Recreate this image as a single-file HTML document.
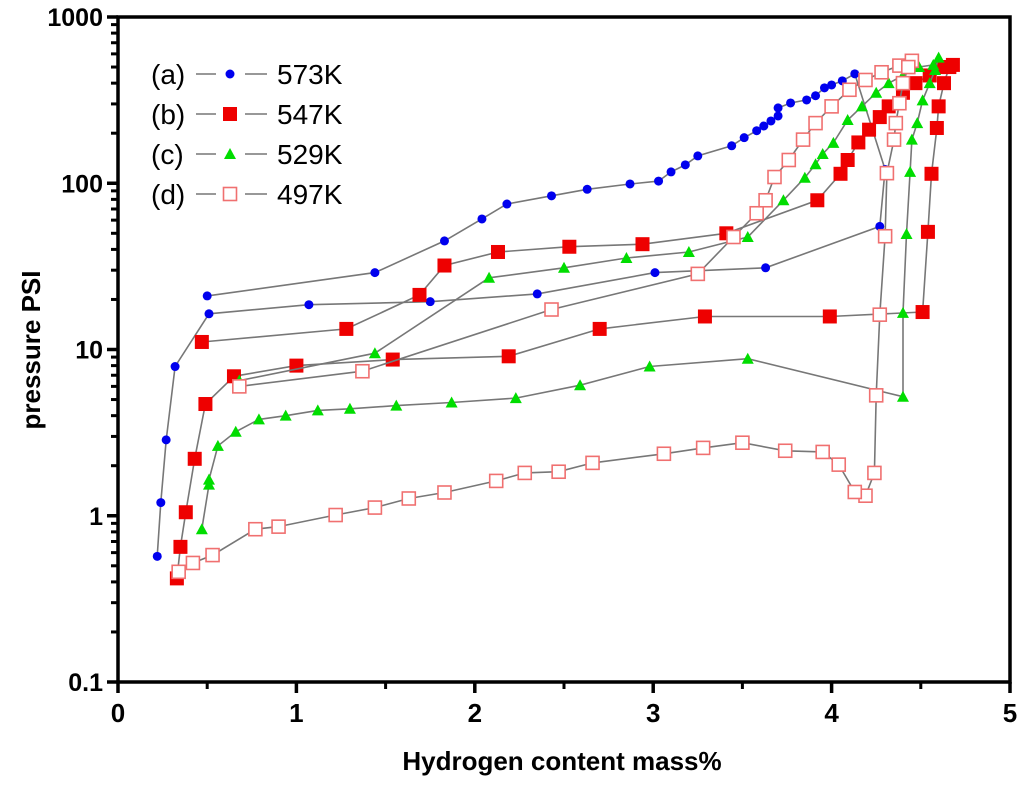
<!DOCTYPE html>
<html><head><meta charset="utf-8"><style>
html,body{margin:0;padding:0;background:#fff;}
svg{display:block;font-family:"Liberation Sans",Arial,sans-serif;}
</style></head><body>
<svg id="chart" width="1024" height="787" viewBox="0 0 1024 787" xmlns="http://www.w3.org/2000/svg">
<g id="axes"></g>
<g id="series"></g>
<g id="legend"></g>
<text x="562" y="770" font-size="26" font-weight="bold" text-anchor="middle">Hydrogen content mass%</text>
<text transform="translate(40,350) rotate(-90)" font-size="26" font-weight="bold" text-anchor="middle">pressure PSI</text>
</svg>
<script>
const xTicks=[0,1,2,3,4,5];
const yTicks=[0.1,1,10,100,1000];
const yTickLabels=["0.1","1","10","100","1000"];
const seriesNames=["(a)","(b)","(c)","(d)"];
const seriesTemps=["573K","547K","529K","497K"];
const aX=[0.50,1.44,1.83,2.04,2.18,2.43,2.63,2.87,3.03,3.10,3.18,3.25,3.44,3.51,3.58,3.62,3.66,3.70,3.70,3.77,3.86,3.91,3.96,4.00,4.06,4.13,4.30,4.27,3.63,3.01,2.35,1.75,1.07,0.51,0.32,0.27,0.24,0.22];
const aY=[21,29,45,61,75,84,92,99,103,117,129,146,168,188,207,221,237,254,284,304,317,336,375,390,413,455,121,55,31,29,21.6,19.4,18.6,16.4,7.9,2.86,1.2,0.57];
const bX=[0.47,1.28,1.69,1.83,2.13,2.53,2.94,3.41,3.92,4.05,4.09,4.15,4.21,4.27,4.32,4.40,4.47,4.55,4.62,4.68,4.66,4.63,4.60,4.59,4.56,4.54,4.51,3.99,3.29,2.70,2.19,1.54,1.00,0.65,0.49,0.43,0.38,0.35,0.33];
const bY=[11.1,13.3,21.3,32,38.6,41.5,43,50,79,114,138,176,210,250,290,350,400,445,500,515,500,400,290,215,114,51,16.8,15.8,15.8,13.3,9.1,8.7,8.0,6.9,4.7,2.2,1.05,0.65,0.42];
const cX=[0.68,1.44,2.08,2.50,2.85,3.20,3.53,3.73,3.85,3.91,3.95,4.01,4.09,4.17,4.25,4.32,4.40,4.49,4.57,4.60,4.58,4.55,4.51,4.48,4.45,4.44,4.42,4.40,4.40,3.53,2.98,2.59,2.23,1.87,1.56,1.30,1.12,0.94,0.79,0.66,0.56,0.51,0.51,0.47];
const cY=[6.5,9.5,27,31,35.5,38.6,47.5,79,108,130,150,175,240,290,350,400,445,500,515,570,480,400,315,230,183,117,49.5,16.6,5.2,8.8,7.9,6.1,5.1,4.8,4.6,4.4,4.3,4.0,3.8,3.2,2.63,1.65,1.54,0.83];
const dX=[0.68,1.37,2.43,3.25,3.45,3.58,3.63,3.68,3.76,3.84,3.91,4.00,4.10,4.19,4.28,4.38,4.45,4.43,4.40,4.38,4.36,4.35,4.31,4.30,4.27,4.25,4.24,4.19,4.13,4.04,3.95,3.74,3.50,3.28,3.06,2.66,2.47,2.28,2.12,1.83,1.63,1.44,1.22,0.90,0.77,0.53,0.42,0.34];
const dY=[6.0,7.4,17.4,28.5,47.5,66,79,109,138,183,230,290,365,418,465,510,545,500,400,303,230,183,115,48,16.2,5.3,1.81,1.32,1.39,2.03,2.42,2.46,2.75,2.56,2.36,2.08,1.84,1.81,1.62,1.38,1.27,1.12,1.01,0.86,0.83,0.58,0.52,0.46];

const NS="http://www.w3.org/2000/svg";
const L=118,R=1010,T=17,B=682;
function X(v){return L+(v-0)*(R-L)/5;}
function Y(p){return B-(Math.log10(p)+1)*(B-T)/4;}
function mk(tag,attrs,parent){const e=document.createElementNS(NS,tag);for(const k in attrs)e.setAttribute(k,attrs[k]);parent.appendChild(e);return e;}
const axes=document.getElementById('axes');
const frame=mk('rect',{x:L,y:T,width:R-L,height:B-T,fill:'none',stroke:'#000','stroke-width':3.5},axes);


xTicks.forEach(v=>{
  const t=mk('line',{x1:X(v),x2:X(v),y1:B,y2:B+11,stroke:'#000','stroke-width':3.5},axes);
  
  
  const lb=mk('text',{x:X(v),y:B+40,'font-size':26,'font-weight':'bold','text-anchor':'middle'},axes);
  lb.textContent=String(v);
  
  
  if(v<5){const m=mk('line',{x1:X(v+0.5),x2:X(v+0.5),y1:B,y2:B+7,stroke:'#000','stroke-width':3},axes);
  
  }
});
yTicks.forEach((v,i)=>{
  const t=mk('line',{x1:L-11,x2:L,y1:Y(v),y2:Y(v),stroke:'#000','stroke-width':3.5},axes);
  
  
  const lb=mk('text',{x:L-15,y:Y(v)+9,'font-size':25,'font-weight':'bold','text-anchor':'end'},axes);
  lb.textContent=yTickLabels[i];
  
  
  if(i<yTicks.length-1){for(let k=2;k<=9;k++){
    const m=mk('line',{x1:L-7,x2:L,y1:Y(v*k),y2:Y(v*k),stroke:'#000','stroke-width':3},axes);
    
    }}
});
const sg=document.getElementById('series');
function marker(type,cx,cy,g){
  let e;
  if(type==='circle')e=mk('circle',{cx:cx,cy:cy,r:4.5,fill:'#0000ee'},g);
  else if(type==='square')e=mk('rect',{x:cx-7,y:cy-7,width:14,height:14,fill:'#ee0000'},g);
  else if(type==='tri')e=mk('polygon',{points:`${cx},${cy-6} ${cx-6},${cy+5} ${cx+6},${cy+5}`,fill:'#00dd00'},g);
  else e=mk('rect',{x:cx-6.5,y:cy-6.5,width:13,height:13,fill:'#fff',stroke:'#f07070','stroke-width':1.6},g);
  return e;
}
const defs=[[aX,aY,'circle','series-573k'],[bX,bY,'square','series-547k'],[cX,cY,'tri','series-529k'],[dX,dY,'open','series-497k']];
defs.forEach(([xs,ys,type,name])=>{
  const g=mk('g',{},sg);
  
  
  const pts=xs.map((x,i)=>X(x).toFixed(1)+','+Y(ys[i]).toFixed(1)).join(' ');
  const pl=mk('polyline',{points:pts,fill:'none',stroke:'#777','stroke-width':1.6},g);
  
  
  xs.forEach((x,i)=>{const m=marker(type,X(x),Y(ys[i]),g);
    
    });
});
const lg=document.getElementById('legend');
const types=['circle','square','tri','open'];
seriesNames.forEach((n,i)=>{
  const y=74+i*40;
  const g=mk('g',{},lg);
  
  
  const t1=mk('text',{x:151,y:y+10,'font-size':28},g);t1.textContent=n;
  mk('line',{x1:196,x2:216,y1:y,y2:y,stroke:'#777','stroke-width':1.6},g);
  mk('line',{x1:245,x2:267,y1:y,y2:y,stroke:'#777','stroke-width':1.6},g);
  marker(types[i],230,y,g);
  const t2=mk('text',{x:277,y:y+10,'font-size':28},g);t2.textContent=seriesTemps[i];
});
</script>
</body></html>
